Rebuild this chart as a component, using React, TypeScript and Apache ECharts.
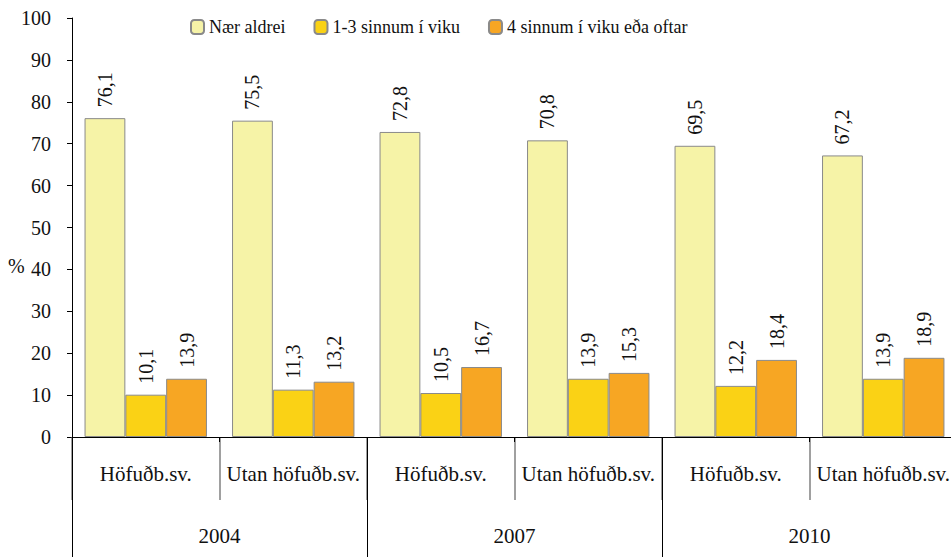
import React, { useEffect, useRef } from "react";
import * as echarts from "echarts";

const subCategories = ["Höfuðb.sv.", "Utan höfuðb.sv.", "Höfuðb.sv.", "Utan höfuðb.sv.", "Höfuðb.sv.", "Utan höfuðb.sv."];
const years = ["2004", "2007", "2010"];
const seriesNames = ["Nær aldrei", "1-3 sinnum í viku", "4 sinnum í viku eða oftar"];
const naerAldrei = [76.1, 75.5, 72.8, 70.8, 69.5, 67.2];
const einTilThrisar = [10.1, 11.3, 10.5, 13.9, 12.2, 13.9];
const fjorumSinnum = [13.9, 13.2, 16.7, 15.3, 18.4, 18.9];
const colors = ["#F6F3A7", "#FAD215", "#F7A623"];

const FONT = "Liberation Serif";

export default function App() {
  const ref = useRef<HTMLDivElement>(null);
  useEffect(() => {
    if (!ref.current) return;
    const chart = echarts.init(ref.current, null, { renderer: "svg" });
    const values = [naerAldrei, einTilThrisar, fjorumSinnum];
    const baseText = { fontFamily: FONT, color: "#111" };
    const option = {
      animation: false,
      backgroundColor: "#ffffff",
      textStyle: { fontFamily: FONT },
      legend: {
        left: 185,
        top: 13,
        itemWidth: 13,
        itemHeight: 14,
        itemGap: 28,
        icon: "roundRect",
        textStyle: { ...baseText, fontSize: 18 },
        data: seriesNames,
      },
      grid: { left: 72, top: 18, bottom: 120, width: 885, containLabel: false, outerBoundsMode: "none" },
      graphic: [
        {
          type: "text",
          left: 8,
          top: 256,
          style: { text: "%", fontFamily: FONT, fontSize: 20, fill: "#111" },
        },
      ],
      yAxis: {
        type: "value",
        min: 0,
        max: 100,
        interval: 10,
        axisLine: { show: true, lineStyle: { color: "#000", width: 1 } },
        axisTick: { show: true, inside: false, length: 5, lineStyle: { color: "#000" } },
        axisLabel: { ...baseText, fontSize: 20, margin: 21 },
        splitLine: { show: false },
      },
      xAxis: [
        {
          type: "category",
          data: subCategories,
          position: "bottom",
          z: 5,
          axisLine: { show: true, lineStyle: { color: "#000", width: 1 } },
          axisTick: { show: true, interval: 0, length: 5, lineStyle: { color: "#000" } },
          axisLabel: { ...baseText, interval: 0, fontSize: 21, margin: 26 },
        },
        {
          type: "category",
          data: subCategories,
          position: "bottom",
          axisLine: { show: false },
          axisTick: { show: true, interval: 0, length: 63, lineStyle: { color: "#808080", width: 1.5 } },
          axisLabel: { show: false },
        },
        {
          type: "category",
          data: years,
          position: "bottom",
          axisLine: { show: false },
          axisTick: { show: true, interval: 0, length: 125, lineStyle: { color: "#000", width: 1 } },
          axisLabel: { ...baseText, interval: 0, fontSize: 21, margin: 88 },
        },
      ],
      series: seriesNames.map((name, i) => ({
        name,
        type: "bar",
        xAxisIndex: 0,
        data: values[i],
        barGap: "0%",
        barCategoryGap: "17%",
        itemStyle: { color: colors[i], borderColor: "#8a8a8a", borderWidth: 1 },
        label: {
          show: true,
          position: "top",
          rotate: 90,
          align: "left",
          verticalAlign: "middle",
          distance: 11,
          ...baseText,
          fontSize: 20,
          formatter: (p: any) => String(p.value.toFixed(1)).replace(".", ","),
        },
      })),
    };
    chart.setOption(option as any);
    return () => chart.dispose();
  }, []);
  return (
    <div
      ref={ref}
      style={{ position: "fixed", left: 0, top: 0, width: 951, height: 557 }}
    />
  );
}
